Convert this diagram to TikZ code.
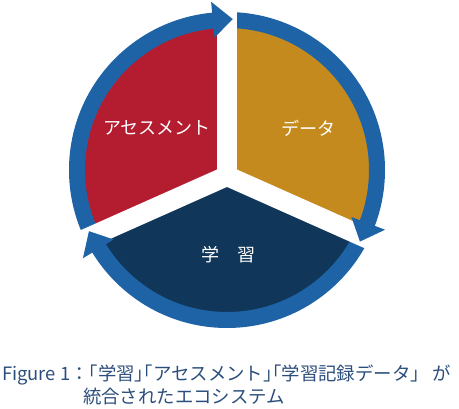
\documentclass[tikz,border=0pt]{standalone}
\usepackage{fontspec}
\setmainfont{Noto Sans CJK JP}
\newfontfamily\halfpunct[RawFeature=+halt]{Noto Sans CJK JP}
\usepackage{tikz}
\usetikzlibrary{positioning}
\definecolor{assessred}{RGB}{180,28,48}
\definecolor{datagold}{RGB}{196,138,30}
\definecolor{learnnavy}{RGB}{16,54,89}
\definecolor{cycleblue}{RGB}{31,99,167}
\definecolor{captionblue}{RGB}{44,78,124}
\newcommand{\lbr}{{\halfpunct 「}}
\newcommand{\rbr}{{\halfpunct 」}}

\begin{document}
\begin{tikzpicture}[x=1pt,y=1pt,
  sectorlabel/.style={text=white,font=\fontsize{18}{20}\selectfont},
  captiontext/.style={text=captionblue,font=\fontsize{18.4}{20}\selectfont,inner sep=0pt,anchor=west},
  gapline/.style={white,line width=20pt},
  cyclehead/.style={fill=cycleblue}]
\useasboundingbox (0,0) rectangle (459,409);
\coordinate (C) at (227,239);
\coordinate (O) at (227,233);
% three sectors
\begin{scope}
\clip (C) circle (142.5);
\fill[assessred] (O) -- ++(90:300) arc[start angle=90,end angle=204,radius=300] -- cycle;
\fill[datagold] (O) -- ++(-24:300) arc[start angle=-24,end angle=90,radius=300] -- cycle;
\fill[learnnavy] (O) -- ++(204:300) arc[start angle=204,end angle=336,radius=300] -- cycle;
\end{scope}
% cycle ring, cut by the gaps
\draw[cycleblue,line width=16pt] (C) circle (150);
\foreach \a in {90,204,-24} \draw[gapline] (O) -- ++(\a:180);
\begin{scope}[shift={(C)}]
\foreach \g in {90,-26.1,206.1}
  \fill[cyclehead] (\g-2.2:151) -- (\g+5.4:133) -- (\g+5.4:169) -- cycle;
\end{scope}
\node[sectorlabel] (assess) at (157,281) {アセスメント};
\node[sectorlabel] (data) at (308,281) {データ};
\node[sectorlabel] (learn) at (228,154) {学　習};
\node[captiontext] (caption1) at (2,34) {Figure 1：\lbr 学習\rbr\lbr アセスメント\rbr\lbr 学習記録データ」 が};
\node[captiontext] (caption2) at (83,12) {統合されたエコシステム};
\end{tikzpicture}
\end{document}
